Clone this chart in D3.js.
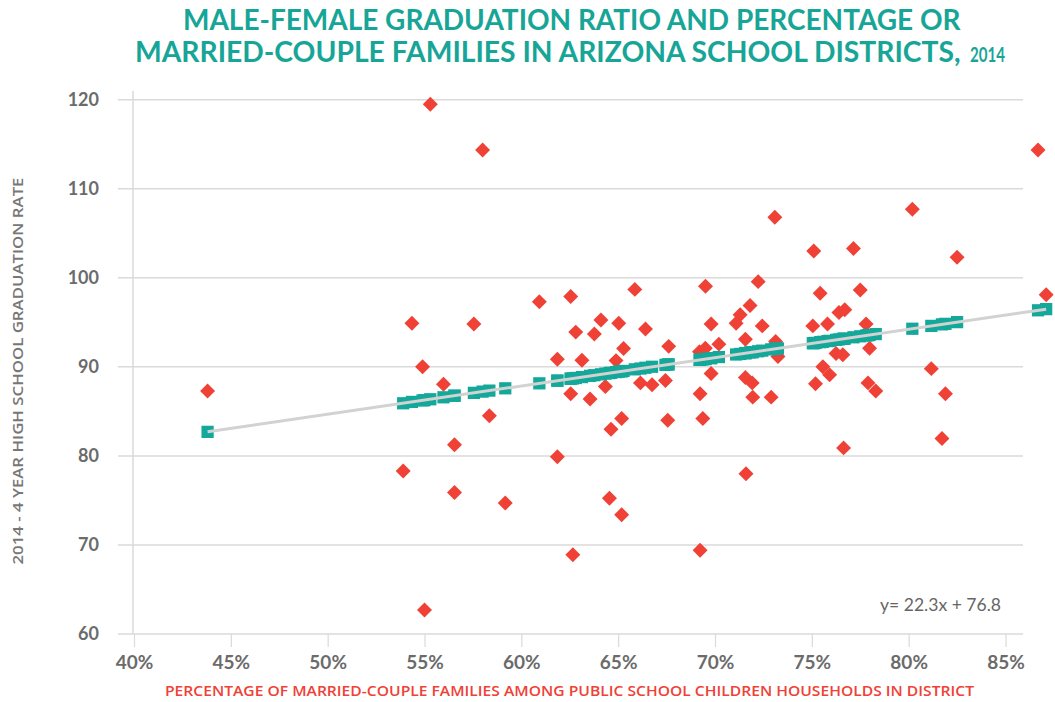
<!DOCTYPE html>
<html>
<head>
<meta charset="utf-8">
<script src="https://cdn.jsdelivr.net/npm/d3@7"></script>
<style>
  body { margin: 0; background: #fff; }
</style>
</head>
<body>
<div id="chart"></div>
<script>
// share of married-couple families among households with public school children (%)
var pctMarried = [
  43.8, 53.9, 54.35, 54.9, 55.0, 55.3, 55.98, 56.55, 56.55, 57.55,
  58.0, 58.35, 59.17, 60.93, 61.86, 61.86, 62.55, 62.81, 63.13, 62.55,
  62.66, 63.55, 63.77, 64.11, 65.03, 65.28, 64.89, 64.34, 64.63, 65.18,
  64.55, 65.18, 65.86, 66.41, 66.15, 66.75, 67.61, 67.44, 67.56, 69.51,
  69.23, 69.37, 69.23, 69.8, 69.8, 70.2, 69.2, 69.5, 73.09, 80.19,
  75.1, 77.15, 82.5, 87.1, 72.23, 75.43, 77.5, 71.81, 71.3, 71.09,
  72.44, 75.05, 75.81, 76.4, 76.7, 77.8, 73.13, 71.57, 73.25, 76.25,
  76.6, 77.98, 75.57, 75.92, 75.19, 71.57, 71.92, 71.95, 72.9, 77.9,
  78.3, 81.17, 81.9, 81.72, 76.64, 71.6, 86.68
];

// male-female graduation ratio (2014, 4 year rate)
var gradRatio = [
  87.3, 78.3, 94.9, 90.0, 62.7, 119.5, 88.05, 81.25, 75.9, 94.8,
  114.35, 84.5, 74.7, 97.3, 90.86, 79.9, 97.9, 93.9, 90.75, 86.97,
  68.9, 86.4, 93.7, 95.27, 94.9, 92.05, 90.7, 87.8, 83.0, 84.2,
  75.25, 73.4, 98.7, 94.26, 88.2, 88.0, 92.3, 88.46, 84.0, 99.05,
  86.97, 84.2, 69.4, 94.8, 89.25, 92.55, 91.7, 92.1, 106.8, 107.7,
  103.0, 103.3, 102.3, 98.1, 99.57, 98.27, 98.64, 96.88, 95.84, 94.9,
  94.6, 94.6, 94.8, 96.1, 96.4, 94.8, 92.84, 93.1, 91.16, 91.5,
  91.35, 92.1, 90.0, 89.1, 88.1, 88.8, 88.2, 86.6, 86.6, 88.2,
  87.3, 89.8, 86.97, 81.95, 80.9, 78.0, 114.35
];

// predicted ratio for each district (teal markers)
var fittedRatio = [
  82.70, 85.91, 86.06, 86.23, 86.26, 86.36, 86.58, 86.76, 86.76, 87.08,
  87.22, 87.33, 87.59, 88.15, 88.45, 88.45, 88.67, 88.75, 88.85, 88.67,
  88.70, 88.99, 89.06, 89.16, 89.46, 89.54, 89.41, 89.24, 89.33, 89.51,
  89.30, 89.51, 89.72, 89.90, 89.81, 90.01, 90.28, 90.22, 90.26, 90.88,
  90.79, 90.84, 90.79, 90.98, 90.98, 91.10, 90.78, 90.88, 92.02, 94.28,
  92.66, 93.32, 95.02, 96.48, 91.75, 92.77, 93.43, 91.62, 91.45, 91.39,
  91.82, 92.65, 92.89, 93.08, 93.17, 93.52, 92.04, 91.54, 92.07, 93.03,
  93.14, 93.58, 92.81, 92.92, 92.69, 91.54, 91.65, 91.66, 91.96, 93.55,
  93.68, 94.60, 94.83, 94.77, 93.15, 91.55, 96.35
];

// linear trendline end points
var trendX = [43.8, 87.1];
var trendY = [82.70, 96.48];

var xTicks = [40, 45, 50, 55, 60, 65, 70, 75, 80, 85];
var yTicks = [60, 70, 80, 90, 100, 110, 120];

var equationText = "y= 22.3x + 76.8";

var W = 1055, H = 702;
var gridLeft = 118, gridRight = 1023, axisX = 133;

var svg = d3.select("#chart")
  .append("svg")
  .attr("width", W)
  .attr("height", H);

var x = d3.scaleLinear().domain([40, 85]).range([134, 1005.5]);
var y = d3.scaleLinear().domain([60, 120]).range([634, 99.7]);

// horizontal gridlines
svg.append("g")
  .selectAll("line")
  .data(yTicks)
  .enter()
  .append("line")
  .attr("x1", gridLeft)
  .attr("x2", gridRight)
  .attr("y1", function (d) { return y(d); })
  .attr("y2", function (d) { return y(d); })
  .attr("stroke", "#dadada")
  .attr("stroke-width", 1.5);

// vertical axis line
svg.append("line")
  .attr("x1", axisX).attr("x2", axisX)
  .attr("y1", 91).attr("y2", y(60))
  .attr("stroke", "#dadada")
  .attr("stroke-width", 1.5);

// x axis ticks and labels
var xAxis = svg.append("g")
  .attr("transform", "translate(0," + y(60) + ")")
  .call(d3.axisBottom(x).tickValues(xTicks).tickSize(13).tickPadding(9)
    .tickFormat(function (d) { return d + "%"; }));
xAxis.select(".domain").remove();
xAxis.selectAll("line").attr("stroke", "#dadada").attr("stroke-width", 1.2);
xAxis.selectAll("text")
  .attr("fill", "#6b6b6b")
  .style("font-family", "Lato, 'Open Sans', sans-serif")
  .style("font-weight", "700")
  .style("font-size", "19px");

// y axis labels
var yAxis = svg.append("g")
  .attr("transform", "translate(" + axisX + ",0)")
  .call(d3.axisLeft(y).tickValues(yTicks).tickSize(0).tickPadding(34));
yAxis.select(".domain").remove();
yAxis.selectAll("text")
  .attr("fill", "#6b6b6b")
  .style("font-family", "Lato, 'Open Sans', sans-serif")
  .style("font-weight", "700")
  .style("font-size", "18px");

// red diamonds (actual ratio)
svg.append("g")
  .selectAll("path")
  .data(pctMarried)
  .enter()
  .append("path")
  .attr("d", d3.symbol().type(d3.symbolSquare).size(112))
  .attr("transform", function (d, i) {
    return "translate(" + x(d) + "," + y(gradRatio[i]) + ") rotate(45)";
  })
  .attr("fill", "#ef4136");

// teal squares (predicted ratio)
svg.append("g")
  .selectAll("path")
  .data(pctMarried)
  .enter()
  .append("path")
  .attr("d", d3.symbol().type(d3.symbolSquare).size(150))
  .attr("transform", function (d, i) {
    return "translate(" + x(d) + "," + y(fittedRatio[i]) + ")";
  })
  .attr("fill", "#13a89a");

// trendline
var trendLine = d3.line()
  .x(function (d) { return x(d); })
  .y(function (d, i) { return y(trendY[i]); });

svg.append("path")
  .datum(trendX)
  .attr("d", trendLine)
  .attr("fill", "none")
  .attr("stroke", "#d2d2d2")
  .attr("stroke-width", 3);

// equation
svg.append("text")
  .text(equationText)
  .attr("x", 880)
  .attr("y", 611)
  .attr("textLength", 121)
  .attr("lengthAdjust", "spacingAndGlyphs")
  .attr("fill", "#666")
  .style("font-family", "Lato, 'Open Sans', sans-serif")
  .style("font-size", "17px");

// squeeze a text horizontally so it spans exactly targetWidth
function fitText(sel, left, baseline, targetWidth) {
  var w = sel.node().getComputedTextLength();
  sel.attr("transform", "translate(" + left + "," + baseline + ") scale(" + (targetWidth / w) + ",1)");
}

// title
var titleFont = "Lato, 'Open Sans', sans-serif";
var title1 = svg.append("text")
  .text("MALE-FEMALE GRADUATION RATIO AND PERCENTAGE OR")
  .attr("fill", "#17a597")
  .style("font-family", titleFont)
  .style("font-weight", "700")
  .style("font-size", "29px");
fitText(title1, 183, 30, 778);

var title2 = svg.append("text")
  .text("MARRIED-COUPLE FAMILIES IN ARIZONA SCHOOL DISTRICTS,")
  .attr("fill", "#17a597")
  .style("font-family", titleFont)
  .style("font-weight", "700")
  .style("font-size", "29px");
fitText(title2, 135, 62, 826);

var title3 = svg.append("text")
  .text("2014")
  .attr("fill", "#17a597")
  .style("font-family", titleFont)
  .style("font-weight", "700")
  .style("font-size", "20px");
fitText(title3, 970, 62, 35);

// y axis title
svg.append("text")
  .text("2014 - 4 YEAR HIGH SCHOOL GRADUATION RATE")
  .attr("transform", "translate(23,371) rotate(-90)")
  .attr("text-anchor", "middle")
  .attr("textLength", 387)
  .attr("lengthAdjust", "spacingAndGlyphs")
  .attr("fill", "#777")
  .style("font-family", "'Open Sans', sans-serif")
  .style("font-weight", "600")
  .style("font-size", "14px");

// x axis title
svg.append("text")
  .text("PERCENTAGE OF MARRIED-COUPLE FAMILIES AMONG PUBLIC SCHOOL CHILDREN HOUSEHOLDS IN DISTRICT")
  .attr("x", 165)
  .attr("y", 696)
  .attr("textLength", 809)
  .attr("lengthAdjust", "spacingAndGlyphs")
  .attr("fill", "#ef4136")
  .style("font-family", "'Open Sans', sans-serif")
  .style("font-weight", "600")
  .style("font-size", "14px");
</script>
</body>
</html>
